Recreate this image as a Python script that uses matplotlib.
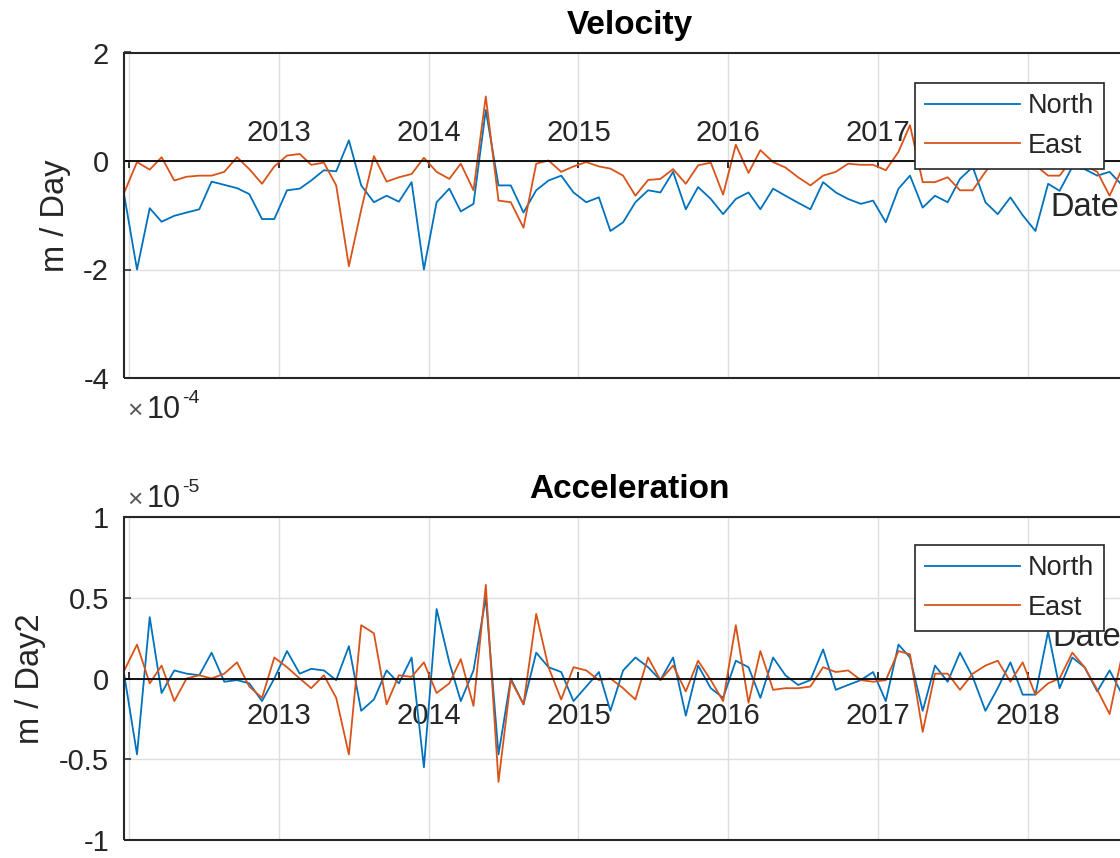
import numpy as np
import pandas as pd
import matplotlib
matplotlib.use('Agg')
import matplotlib.pyplot as plt
from matplotlib.patches import Rectangle

plt.rcParams['font.family'] = ['Liberation Sans', 'DejaVu Sans']
plt.rcParams['axes.unicode_minus'] = False

# monthly samples, Dec 2011 .. Sep 2018
dates = pd.date_range('2011-12-01', periods=82, freq='MS') + pd.Timedelta(days=19)

# velocity, units of 1e-4 m/day
vel_north = [-0.64, -2.0, -0.87, -1.12, -1.01, -0.95, -0.89, -0.38, -0.44, -0.5,
             -0.61, -1.07, -1.07, -0.54, -0.51, -0.36, -0.17, -0.19, 0.38, -0.45,
             -0.76, -0.64, -0.75, -0.39, -2.0, -0.76, -0.51, -0.93, -0.79, 0.94,
             -0.45, -0.45, -0.95, -0.54, -0.36, -0.27, -0.58, -0.76, -0.67, -1.29,
             -1.13, -0.76, -0.54, -0.58, -0.2, -0.89, -0.48, -0.7, -0.98, -0.7,
             -0.58, -0.89, -0.51, -0.64, -0.77, -0.89, -0.39, -0.58, -0.7, -0.79,
             -0.73, -1.13, -0.51, -0.27, -0.86, -0.64, -0.76, -0.33, -0.11, -0.76,
             -0.98, -0.67, -1.0, -1.29, -0.42, -0.55, -0.11, -0.15, -0.27, -0.2,
             -0.45, -0.3]
vel_east = [-0.58, -0.02, -0.16, 0.07, -0.36, -0.29, -0.27, -0.27, -0.2, 0.07,
            -0.15, -0.42, -0.1, 0.1, 0.13, -0.07, -0.03, -0.45, -1.94, -0.9,
            0.09, -0.38, -0.3, -0.24, 0.06, -0.2, -0.33, -0.05, -0.54, 1.19,
            -0.73, -0.76, -1.23, -0.05, 0.01, -0.2, -0.1, -0.02, -0.1, -0.14,
            -0.27, -0.64, -0.35, -0.33, -0.15, -0.42, -0.08, -0.03, -0.62, 0.3,
            -0.22, 0.2, -0.02, -0.12, -0.3, -0.45, -0.27, -0.2, -0.05, -0.07,
            -0.07, -0.17, 0.17, 0.66, -0.39, -0.39, -0.3, -0.54, -0.54, -0.2,
            0.1, 0.05, 0.25, -0.08, -0.27, -0.27, 0.04, -0.08, -0.2, -0.64,
            -0.14, -0.3]

# acceleration, units of 1e-5 m/day^2
acc_north = [0.02, -0.47, 0.38, -0.09, 0.05, 0.03, 0.02, 0.16, -0.02, -0.01,
             -0.03, -0.14, 0.0, 0.17, 0.03, 0.06, 0.05, -0.01, 0.2, -0.2,
             -0.13, 0.05, -0.03, 0.13, -0.55, 0.43, 0.1, -0.14, 0.05, 0.5,
             -0.47, 0.0, -0.16, 0.16, 0.07, 0.04, -0.14, -0.05, 0.04, -0.2,
             0.05, 0.13, 0.07, -0.01, 0.13, -0.23, 0.08, -0.06, -0.12, 0.11,
             0.07, -0.12, 0.13, 0.02, -0.04, -0.01, 0.18, -0.07, -0.04, -0.01,
             0.04, -0.14, 0.21, 0.13, -0.2, 0.08, -0.02, 0.16, 0.01, -0.2,
             -0.06, 0.1, -0.1, -0.1, 0.29, -0.06, 0.13, 0.07, -0.08, 0.05,
             -0.1, 0.05]
acc_east = [0.05, 0.21, -0.03, 0.08, -0.14, 0.0, 0.02, 0.0, 0.03, 0.1,
            -0.05, -0.12, 0.13, 0.07, 0.0, -0.06, 0.02, -0.12, -0.47, 0.33,
            0.28, -0.16, 0.02, 0.01, 0.1, -0.09, -0.03, 0.12, -0.17, 0.58,
            -0.64, -0.01, -0.16, 0.4, 0.07, -0.13, 0.07, 0.05, -0.01, 0.0,
            -0.06, -0.13, 0.13, -0.01, 0.08, -0.08, 0.11, -0.01, -0.14, 0.33,
            -0.15, 0.17, -0.07, -0.06, -0.06, -0.05, 0.07, 0.04, 0.05, -0.01,
            -0.02, -0.01, 0.17, 0.15, -0.33, 0.03, 0.03, -0.07, 0.03, 0.08,
            0.11, -0.02, 0.1, -0.1, -0.03, 0.0, 0.16, 0.07, -0.07, -0.22,
            0.15, 0.0]

year_ticks = pd.to_datetime(['2012-01-01', '2013-01-01', '2014-01-01', '2015-01-01',
                             '2016-01-01', '2017-01-01', '2018-01-01'])
# the 2018 label of the top panel sits under its legend in the reference
vel_year_labels = ['', '2013', '2014', '2015', '2016', '2017', '']
acc_year_labels = ['', '2013', '2014', '2015', '2016', '2017', '2018']
series_names = ['North', 'East']

C_NORTH = '#0072BD'
C_EAST = '#D95319'
TXT = '#262626'
W, H = 1120, 858


def px_rect(left, top, right, bottom):
    return [left / W, 1 - bottom / H, (right - left) / W, (bottom - top) / H]


def style_axes(ax, zero_side, xlabels, yticks, ylabels, xpad):
    ax.set_xlim(dates[0], dates[-1])
    ax.set_xticks(year_ticks)
    ax.set_xticklabels(xlabels)
    ax.set_yticks(yticks)
    ax.set_yticklabels(ylabels)
    ax.set_ylim(yticks[0], yticks[-1])
    ax.grid(True, color='#dedede', lw=1.0)
    for s in ax.spines.values():
        s.set_visible(False)
    sp = ax.spines[zero_side]
    sp.set_visible(True)
    sp.set_position(('data', 0))
    sp.set_color('black')
    sp.set_linewidth(1.3)
    ax.add_patch(Rectangle((0, 0), 1, 1, transform=ax.transAxes, fill=False,
                           ec=TXT, lw=1.5, clip_on=False, zorder=3))
    ax.tick_params(axis='x', direction='in', length=5, width=1.1, pad=xpad,
                   labelsize=21, labelcolor=TXT, color='black')
    ax.tick_params(axis='y', direction='in', length=5, width=1.1, pad=11,
                   labelsize=21, labelcolor=TXT, color=TXT, right=False)


def add_legend(ax, top_px):
    leg = ax.legend(loc='upper left', bbox_to_anchor=(915 / W, 1 - top_px / H),
                    bbox_transform=fig.transFigure, fontsize=19.5, frameon=True,
                    fancybox=False, edgecolor=TXT, framealpha=1, borderpad=0.37,
                    labelspacing=0.5, handlelength=3.5, handletextpad=0.3,
                    borderaxespad=0)
    leg.get_frame().set_linewidth(1.2)
    for t in leg.get_texts():
        t.set_color(TXT)


def add_exponent(base_px, power):
    fig.text(127 / W, 1 - base_px / H, '\u00d7', fontsize=19, color='#555555', va='baseline')
    fig.text(147 / W, 1 - base_px / H, '10', fontsize=22, color=TXT, va='baseline')
    fig.text(182 / W, 1 - (base_px - 15) / H, power, fontsize=14, color=TXT, va='baseline')


fig = plt.figure(figsize=(W / 100, H / 100), dpi=100)

# Velocity
ax1 = fig.add_axes(px_rect(124.3, 52.5, 1135, 378))
ax1.plot(dates, vel_north, color=C_NORTH, lw=1.3, label=series_names[0])
ax1.plot(dates, vel_east, color=C_EAST, lw=1.3, label=series_names[1])
style_axes(ax1, 'top', vel_year_labels, [-4, -2, 0, 2], ['-4', '-2', '0', '2'], 10)
ax1.xaxis.tick_top()
ax1.set_title('Velocity', fontsize=24, fontweight='bold', y=1.0, pad=13.5)
ax1.set_ylabel('m / Day', fontsize=23.5, color=TXT)
ax1.yaxis.set_label_coords((71 - 124.3) / 1010.7, 0.5)
add_legend(ax1, 83)
ax1.text(1050 / W, 1 - 208 / H, 'Date', transform=fig.transFigure, fontsize=23.5,
         va='center', ha='left', color=TXT, zorder=4)
add_exponent(418, '-4')

# Acceleration
ax2 = fig.add_axes(px_rect(124.3, 517, 1135, 840))
ax2.plot(dates, acc_north, color=C_NORTH, lw=1.3, label=series_names[0])
ax2.plot(dates, acc_east, color=C_EAST, lw=1.3, label=series_names[1])
style_axes(ax2, 'bottom', acc_year_labels, [-1, -0.5, 0, 0.5, 1],
           ['-1', '-0.5', '0', '0.5', '1'], 17)
ax2.set_title('Acceleration', fontsize=24, fontweight='bold', y=1.0, pad=14)
ax2.set_ylabel('m / Day2', fontsize=23.5, color=TXT)
ax2.yaxis.set_label_coords((46 - 124.3) / 1010.7, 0.5)
add_legend(ax2, 545)
ax2.text(1052 / W, 1 - 637 / H, 'Date', transform=fig.transFigure, fontsize=23.5,
         va='center', ha='left', color=TXT, zorder=4)
add_exponent(507, '-5')

fig.savefig('out.png', dpi=100)
